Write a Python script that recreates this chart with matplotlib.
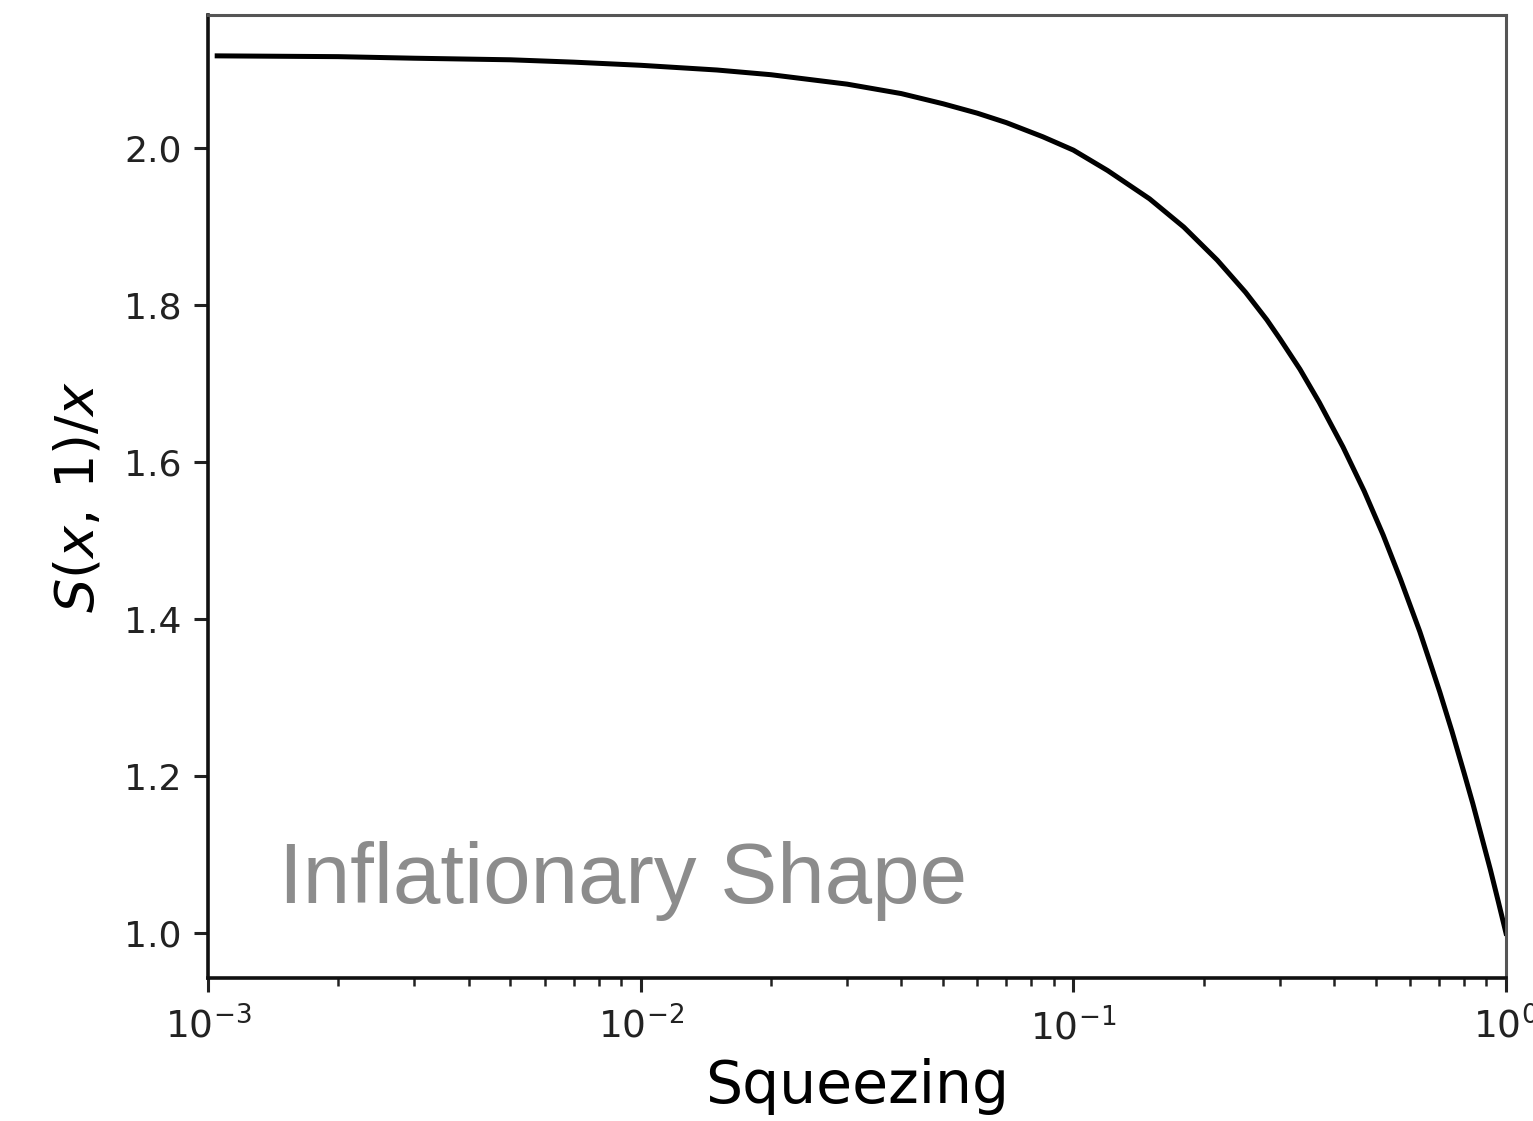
import numpy as np
import matplotlib
matplotlib.use("Agg")
import matplotlib.pyplot as plt

# values
squeezing = [0.00105, 0.002, 0.003, 0.005, 0.007, 0.01, 0.015, 0.02, 0.03, 0.04,
             0.05, 0.06, 0.07, 0.085, 0.1, 0.12, 0.15, 0.18, 0.215, 0.25,
             0.28, 0.3, 0.334, 0.37, 0.42, 0.47, 0.52, 0.57, 0.632, 0.67,
             0.703, 0.75, 0.8, 0.838, 0.88, 0.92, 0.96, 1.0]
ratio = [2.117, 2.116, 2.114, 2.112, 2.109, 2.105, 2.099, 2.093, 2.081, 2.069,
         2.056, 2.044, 2.032, 2.014, 1.997, 1.971, 1.935, 1.899, 1.857, 1.816,
         1.781, 1.757, 1.718, 1.676, 1.619, 1.563, 1.507, 1.451, 1.384, 1.342,
         1.307, 1.257, 1.204, 1.165, 1.121, 1.081, 1.040, 1.000]

fig = plt.figure(figsize=(15.33, 11.21), dpi=100)
ax = fig.add_axes([0.1357, 0.1276, 0.8467, 0.859])

ax.plot(squeezing, ratio, color="black", linewidth=3.6)
ax.set_xscale("log")
ax.set_xlim(1e-3, 1)
ax.set_ylim(0.943, 2.169)
ax.set_yticks([1.0, 1.2, 1.4, 1.6, 1.8, 2.0])

ax.tick_params(which="major", labelsize=26, length=10, width=2.2, colors="#222222")
ax.tick_params(which="minor", length=6, width=1.8, colors="#222222")
ax.tick_params(axis="x", which="major", labelsize=27, pad=11)
ax.tick_params(axis="y", which="major", pad=9)
for side in ["left", "bottom"]:
    ax.spines[side].set_linewidth(2.6)
    ax.spines[side].set_color("#111111")
for side in ["top", "right"]:
    ax.spines[side].set_linewidth(2.2)
    ax.spines[side].set_color("#555555")

ax.set_xlabel("Squeezing", fontsize=42, labelpad=8)
ax.set_ylabel(r"$S(x,\,1)/x$", fontsize=39, labelpad=14)

ax.text(0.055, 0.078, "Inflationary Shape", transform=ax.transAxes,
        fontsize=61.5, color="#8c8c8c", family="Liberation Sans")

fig.savefig("out.png", dpi=100)
